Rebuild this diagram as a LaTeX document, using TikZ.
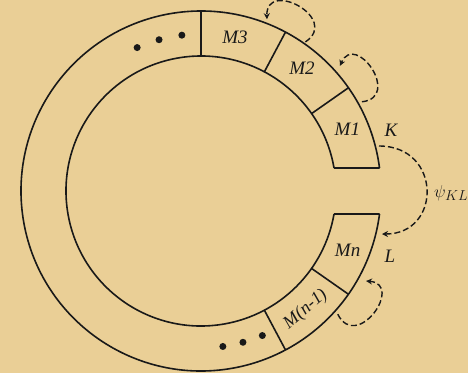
\documentclass[tikz,border=0pt]{standalone}
\usepackage{fontspec}
\setmainfont{Liberation Serif}
\usetikzlibrary{arrows.meta}
\definecolor{parch}{RGB}{234,207,150}
\definecolor{ink}{RGB}{25,25,25}
\begin{document}
\begin{tikzpicture}[x=1pt,y=1pt,
  ringline/.style={draw=ink,line width=1.6pt},
  loopline/.style={draw=ink,line width=1.4pt,dash pattern=on 6pt off 3pt,-{Stealth[length=6pt,width=6pt]}},
  lab/.style={text=ink,font=\fontsize{19}{22}\selectfont\itshape,inner sep=0pt},
  dotmark/.style={circle,fill=ink,inner sep=0pt,minimum size=7pt}]
\fill[parch] (-201,-182) rectangle (267,191);
\useasboundingbox (-201,-182) rectangle (267,191);
% ring
\draw[ringline] (7.34:180) arc[start angle=7.34,end angle=352.66,radius=180];
\draw[ringline] (9.8:135) arc[start angle=9.8,end angle=350.2,radius=135];
\draw[ringline] (9.8:135) -- (7.34:180);
\draw[ringline] (-9.8:135) -- (-7.34:180);
\foreach \a in {90,62,35,-35,-62}{
  \draw[ringline] (\a:135) -- (\a:180);
}
% dots
\foreach \a/\n in {97/d1,105.5/d2,114/d3,-67/d4,-74.5/d5,-82/d6}{
  \node[dotmark] (\n) at (\a:157) {};
}
% labels
\node[lab] (m3) at (77.5:157) {M3};
\node[lab] (m2) at (50.6:159) {M2};
\node[lab] (m1) at (23:159) {M1};
\node[lab] (mn) at (-21.9:158) {Mn};
\node[lab,rotate=40,font=\fontsize{18}{20}\selectfont\itshape] (mn1) at (-48.5:158) {M(n-1)};
\node[lab] (K) at (190,61) {K};
\node[lab] (L) at (189,-65) {L};
\node[lab,anchor=west] (psi) at (233,-2) {$\psi_{KL}$};
% loop end points
\coordinate (a1) at (55:182);
\coordinate (b1) at (69:184);
\coordinate (a2) at (29:184);
\coordinate (b2) at (42:187);
\coordinate (a3) at (-42:184);
\coordinate (b3) at (-28.6:188);
\coordinate (kk) at (178,45);
\coordinate (ll) at (181,-43);
\draw[loopline] (a1) .. controls (51:222) and (73:222) .. (b1);
\draw[loopline] (a2) .. controls (25:222) and (46:222) .. (b2);
\draw[loopline] (a3) .. controls (-46:224) and (-24.6:224) .. (b3);
\draw[loopline] (kk) .. controls (241,45) and (241,-43) .. (ll);
\end{tikzpicture}
\end{document}
